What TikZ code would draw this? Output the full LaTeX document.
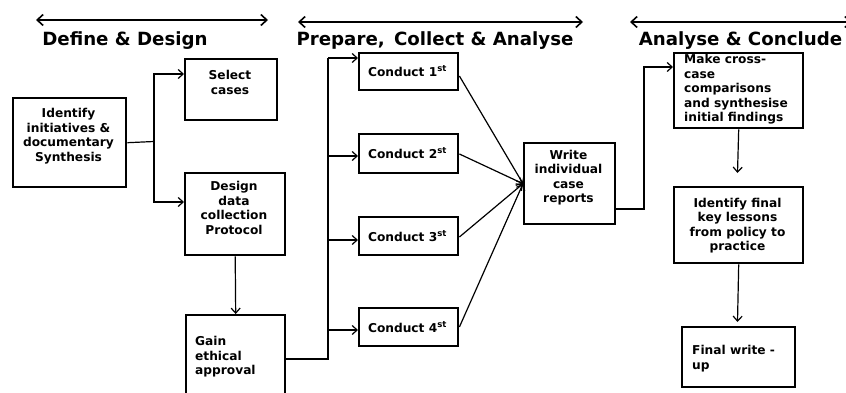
\documentclass[tikz,border=0pt]{standalone}
\usepackage{fontspec}
\setmainfont{DejaVu Sans}
\usetikzlibrary{arrows.meta}
\begin{document}
\begin{tikzpicture}[x=1pt,y=-1pt,
  box/.style={draw=black,line width=2.4pt,anchor=north west,inner sep=0pt},
  txt/.style={font=\fontsize{12.2}{14.5}\selectfont\bfseries,align=center,inner sep=0pt},
  ltxt/.style={font=\fontsize{12.2}{14.5}\selectfont\bfseries,align=left,inner sep=0pt},
  head/.style={font=\fontsize{18.2}{20}\selectfont\bfseries,inner sep=0pt},
  line/.style={draw=black,line width=1.2pt},
  arr/.style={line,-{Straight Barb[length=5pt,width=9pt]}},
  dbl/.style={draw=black,line width=1.6pt,{Straight Barb[length=6pt,width=11pt]}-{Straight Barb[length=6pt,width=11pt]}}]
\useasboundingbox (0,0) rectangle (846,393);
% top arrows and headings
\coordinate (a1l) at (36,20); \coordinate (a1r) at (268,20);
\coordinate (a2l) at (298,22); \coordinate (a2r) at (583,22);
\coordinate (a3l) at (630,22); \coordinate (a3r) at (852,22);
\draw[dbl] (a1l) -- (a1r);
\draw[dbl] (a2l) -- (a2r);
\draw[dbl] (a3l) -- (a3r);
\node[head] (h1) at (125,41) {Define \& Design};
\node[head] (h2) at (435,41) {Prepare,\, Collect \& Analyse};
\node[head] (h3) at (740.5,41) {Analyse \& Conclude};
% boxes
\node[box,minimum width=113pt,minimum height=89pt] (ident) at (12,97) {};
\node[txt] (identt) at (68.5,136) {Identify\\initiatives \&\\documentary\\Synthesis};
\node[box,minimum width=92pt,minimum height=61pt] (sel) at (184,58) {};
\node[txt] (selt) at (230,82.5) {Select\\cases};
\node[box,minimum width=100pt,minimum height=82pt] (des) at (184,172) {};
\node[txt] (dest) at (234,208) {Design\\data\\collection\\Protocol};
\node[box,minimum width=99pt,minimum height=86pt] (gain) at (185,314) {};
\node[ltxt,anchor=west] (gaint) at (195,357) {Gain\\ethical\\approval};
\node[box,minimum width=99pt,minimum height=37pt] (c1) at (358,52) {};
\node[txt] (c1t) at (407.5,71) {Conduct 1\textsuperscript{st}};
\node[box,minimum width=99pt,minimum height=39pt] (c2) at (358,133) {};
\node[txt] (c2t) at (407.5,153) {Conduct 2\textsuperscript{st}};
\node[box,minimum width=99pt,minimum height=38pt] (c3) at (358,216) {};
\node[txt] (c3t) at (407.5,236) {Conduct 3\textsuperscript{st}};
\node[box,minimum width=99pt,minimum height=38pt] (c4) at (358,307) {};
\node[txt] (c4t) at (407.5,327) {Conduct 4\textsuperscript{st}};
\node[box,minimum width=91pt,minimum height=81pt] (write) at (523,142) {};
\node[txt] (writet) at (568.5,177.5) {Write\\individual\\case\\reports};
\node[box,minimum width=129pt,minimum height=75pt] (make) at (673,52) {};
\node[ltxt,anchor=west] (maket) at (684,89.5) {Make cross-\\case\\comparisons\\and synthesise\\initial findings};
\node[box,minimum width=129pt,minimum height=76pt] (idf) at (673,186) {};
\node[txt] (idft) at (737.5,225.5) {Identify final\\key lessons\\from policy to\\practice};
\node[box,minimum width=113pt,minimum height=60pt] (fin) at (681,326) {};
\node[ltxt,anchor=west] (fint) at (692,358.5) {Final write -\\up};
% connectors
\coordinate (j1) at (154,141.5);
\draw[line] (ident.east) -- (j1);
\draw[arr] (j1) |- ([yshift=-16pt]sel.north west);
\draw[arr] (j1) |- ([yshift=-30pt]des.north west);
\draw[arr] (des.south) -- (gain.north);
\coordinate (j2) at (328,359);
\coordinate (j2t) at (328,58);
\draw[line] ([yshift=-45pt]gain.north east) -- (j2) -- (j2t);
\draw[arr] (j2t) -- ([yshift=-6pt]c1.north west);
\coordinate (s2) at (328,156);
\coordinate (s3) at (328,240);
\coordinate (s4) at (328,330);
\draw[arr] (s2) -- ([yshift=-23pt]c2.north west);
\draw[arr] (s3) -- ([yshift=-24pt]c3.north west);
\draw[arr] (s4) -- ([yshift=-23pt]c4.north west);
\draw[arr] ([yshift=-24pt]c1.north east) -- (write.west);
\draw[arr] ([yshift=-21pt]c2.north east) -- (write.west);
\draw[arr] ([yshift=-21pt]c3.north east) -- (write.west);
\draw[arr] ([yshift=-20pt]c4.north east) -- (write.west);
\coordinate (j3) at (644,209);
\draw[arr] ([yshift=-67pt]write.north east) -- (j3) |- ([yshift=-15pt]make.north west);
\coordinate (m1) at (737.5,173);
\draw[arr] (make.south) -- (m1);
\coordinate (m2) at (737.5,322);
\draw[arr] (idf.south) -- (m2);
\end{tikzpicture}
\end{document}
